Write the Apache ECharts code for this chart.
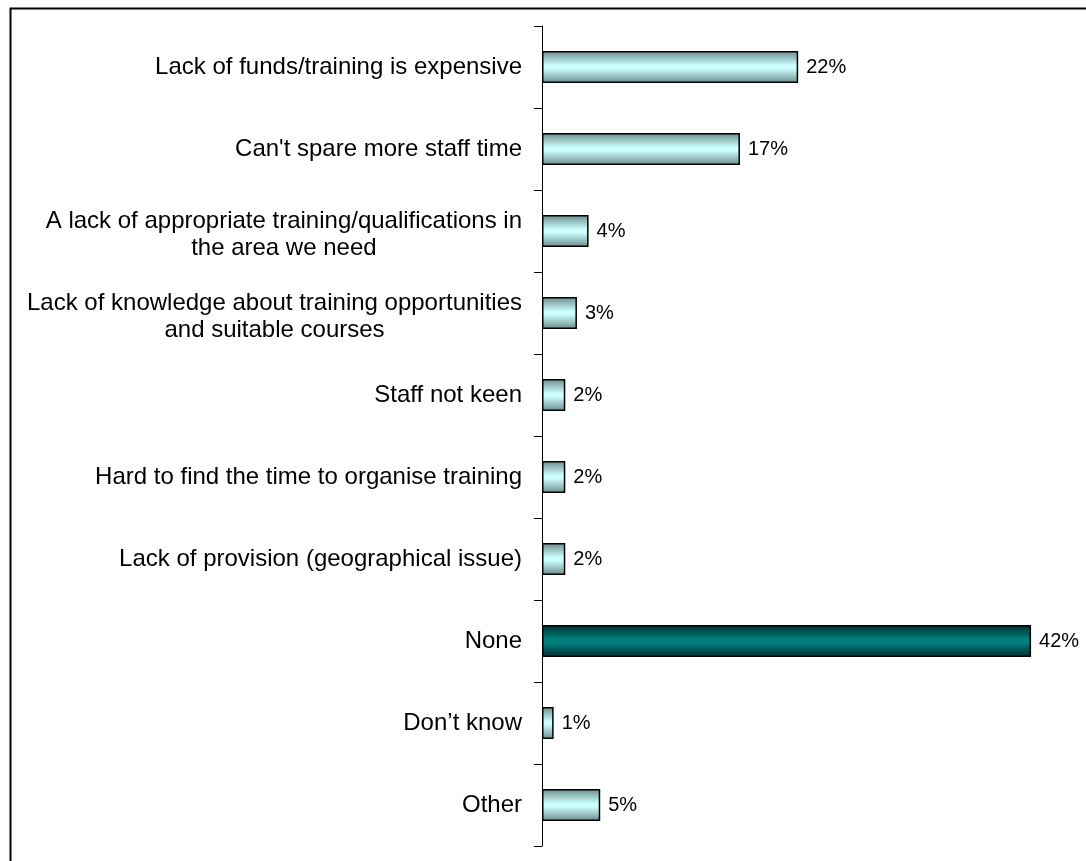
<!DOCTYPE html>
<html>
<head>
<meta charset="utf-8">
<script src="https://cdn.jsdelivr.net/npm/echarts@6/dist/echarts.min.js"></script>
<style>
  html, body { margin: 0; padding: 0; background: #ffffff; }
  #chart { width: 1086px; height: 861px; }
</style>
</head>
<body>
<div id="chart"></div>
<script>
// Barriers to training – share of respondents
const categories = [
  "Lack of funds/training is expensive",
  "Can't spare more staff time",
  "A lack of appropriate training/qualifications in\nthe area we need",
  "Lack of knowledge about training opportunities\nand suitable courses",
  "Staff not keen",
  "Hard to find the time to organise training",
  "Lack of provision (geographical issue)",
  "None",
  "Don\u2019t know",
  "Other"
];
const values = [22, 17, 4, 3, 2, 2, 2, 42, 1, 5];
const highlighted = ["None"];

const FONT = 'Liberation Sans, Arial, sans-serif';

const lightFill = new echarts.graphic.LinearGradient(0, 0, 0, 1, [
  { offset: 0, color: '#6a8a8a' },
  { offset: 0.45, color: '#ccffff' },
  { offset: 0.55, color: '#ccffff' },
  { offset: 1, color: '#6a8a8a' }
]);
const darkFill = new echarts.graphic.LinearGradient(0, 0, 0, 1, [
  { offset: 0, color: '#002e2e' },
  { offset: 0.45, color: '#008080' },
  { offset: 0.55, color: '#008080' },
  { offset: 1, color: '#002e2e' }
]);

// Single-line labels use style "c"; two-line labels use "a"/"b" so the
// lines are centred on each other and sit slightly below the band centre.
function formatLabel(v) {
  const lines = v.split('\n');
  if (lines.length === 1) return '{c|' + lines[0] + '}';
  return '{a|' + lines[0] + '}\n{b|' + lines[1] + '}';
}

const textBase = { align: 'center', fontFamily: FONT, fontSize: 24, color: '#000000' };

const chart = echarts.init(document.getElementById('chart'), null, { renderer: 'canvas' });

chart.setOption({
  backgroundColor: '#ffffff',
  animation: false,
  graphic: [{
    type: 'rect',
    left: 8, top: 6,
    shape: { x: 0, y: 0, width: 1200, height: 1000 },
    style: { fill: 'none', stroke: '#000000', lineWidth: 2 },
    silent: true,
    z: 0
  }],
  grid: { left: 542, top: 26, bottom: 15, right: 20, containLabel: false },
  xAxis: {
    type: 'value', min: 0, max: 45, show: false
  },
  yAxis: {
    type: 'category',
    inverse: true,
    data: categories,
    axisLine: { show: true, lineStyle: { color: '#000000', width: 1 } },
    axisTick: { show: true, length: 8, lineStyle: { color: '#000000', width: 1 } },
    axisLabel: {
      margin: 20,
      color: '#000000',
      fontFamily: FONT,
      fontSize: 24,
      formatter: formatLabel,
      rich: {
        a: Object.assign({ lineHeight: 34 }, textBase),
        b: Object.assign({ lineHeight: 19 }, textBase),
        c: Object.assign({ lineHeight: 28 }, textBase)
      }
    }
  },
  series: [{
    type: 'bar',
    barWidth: 32,
    data: values.map((v, i) => ({
      value: v,
      itemStyle: {
        color: highlighted.includes(categories[i]) ? darkFill : lightFill,
        borderColor: '#000000',
        borderWidth: 1.5
      }
    })),
    label: {
      show: true,
      position: 'right',
      distance: 8,
      formatter: p => p.value + '%',
      color: '#000000',
      fontFamily: FONT,
      fontSize: 20
    }
  }]
});
</script>
</body>
</html>
